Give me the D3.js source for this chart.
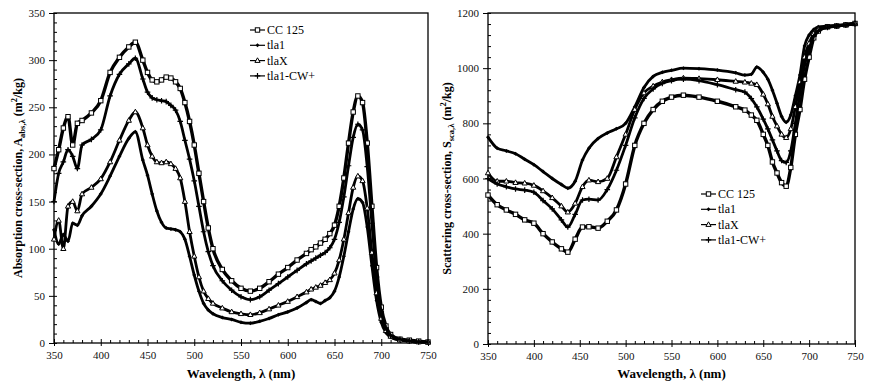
<!DOCTYPE html>
<html>
<head>
<meta charset="utf-8">
<script src="https://cdn.jsdelivr.net/npm/d3@7"></script>
<style>
	body { margin: 0; background: #fff; }
	text { font-family: "Liberation Serif", "Times New Roman", serif; }
</style>
</head>
<body>
<div id="chart"></div>
<script>
// ---- data ----
const series_names = ["CC 125", "tla1", "tlaX", "tla1-CW+"];
const x_ticks = [350, 400, 450, 500, 550, 600, 650, 700, 750];
const abs_y_ticks = [0, 50, 100, 150, 200, 250, 300, 350];
const sca_y_ticks = [0, 200, 400, 600, 800, 1000, 1200];

// absorption panel (left)
const abs_wavelength = [350,355,360,365,370,375,380,390,400,410,420,430,437,445,450,455,460,465,470,475,480,485,490,495,500,505,510,515,520,530,540,550,560,570,580,590,600,610,620,625,630,635,640,645,650,655,660,665,670,675,680,685,690,695,700,705,710,720,730,740,750];
const abs_cc125 = [185,205,228,240,210,233,236,244,257,287,303,314,319,300,287,279,277,279,282,281,277,270,255,235,210,180,150,122,100,78,66,58,55,58,65,73,80,88,95,99,102,106,110,116,125,145,175,212,245,262,255,212,145,80,38,18,9,4,3,2,1];
const abs_tla1 = [120,105,115,108,127,125,135,145,158,177,198,217,224,194,178,158,140,128,122,121,120,118,110,92,72,55,42,35,31,27,25,22,21,23,26,30,33,37,43,46,44,42,45,48,55,70,92,118,142,153,149,123,82,45,22,11,6,3,2,1,1];
const abs_tlax = [110,130,100,145,150,140,158,165,174,192,215,236,245,228,210,198,192,191,192,190,185,175,150,118,92,70,55,47,42,37,33,31,30,32,36,40,44,49,54,57,59,61,64,67,74,88,110,138,165,177,172,143,96,53,26,13,7,3,2,1,1];
const abs_cw = [150,180,192,205,198,185,210,216,226,262,285,296,302,280,266,260,258,257,256,252,247,235,215,195,172,145,118,97,82,66,56,49,46,49,56,63,70,77,84,87,90,93,96,101,110,128,155,188,218,232,226,187,127,70,33,16,8,4,2,1,1];

// scattering panel (right)
const sca_wavelength = [350,360,370,380,390,400,410,420,430,437,445,453,460,470,480,490,500,510,520,530,540,550,563,580,600,620,630,637,643,650,655,660,665,670,675,680,685,690,695,700,705,710,720,730,740,750];
const sca_cc125 = [540,505,486,470,450,438,400,370,345,333,380,424,425,420,445,486,580,720,800,850,880,895,902,895,880,860,848,830,811,760,720,660,620,585,572,640,760,850,960,1040,1110,1135,1150,1153,1157,1162];
const sca_tla1 = [750,710,700,690,670,650,625,600,578,565,590,667,710,745,765,780,800,860,930,970,985,992,1000,998,993,983,975,978,1004,985,960,920,873,825,804,830,900,975,1080,1120,1140,1150,1152,1155,1158,1163];
const sca_tlax = [620,590,590,585,583,575,555,530,500,478,510,570,594,588,600,678,760,850,910,935,950,958,964,962,958,952,949,945,940,905,870,825,790,760,748,780,860,950,1040,1090,1125,1140,1150,1153,1157,1162];
const sca_cw = [600,580,570,562,558,550,520,490,450,424,470,522,525,522,560,630,720,820,890,925,945,955,960,955,940,922,913,890,860,815,780,740,700,665,658,700,800,910,1010,1070,1115,1135,1148,1152,1156,1160];

const width = 873;
const height = 384;
const marker_types = ["square", "dot", "triangle", "plus"];

const svg = d3
	.select("#chart")
	.append("svg")
	.attr("width", width)
	.attr("height", height)
	.style("background", "#fff");

// small marker glyph centred on (0,0)
function add_marker(sel, type) {
	if (type === "square") {
		sel.append("rect")
			.attr("x", -2.2).attr("y", -2.2)
			.attr("width", 4.4).attr("height", 4.4)
			.attr("fill", "#fff").attr("stroke", "#000").attr("stroke-width", 1);
	} else if (type === "triangle") {
		sel.append("path")
			.attr("d", "M0,-2.8L2.6,1.8L-2.6,1.8Z")
			.attr("fill", "#fff").attr("stroke", "#000").attr("stroke-width", 1);
	} else if (type === "dot") {
		sel.append("path")
			.attr("d", "M0,-2L2,0L0,2L-2,0Z")
			.attr("fill", "#000");
	} else {
		sel.append("path")
			.attr("d", "M-2.8,0H2.8M0,-2.8V2.8")
			.attr("stroke", "#000").attr("stroke-width", 1.2);
	}
}

function draw_panel(cfg) {
	const g = svg.append("g");
	const x = d3.scaleLinear().domain([350, 750]).range([cfg.left, cfg.right]);
	const y = d3.scaleLinear().domain([0, cfg.y_max]).range([cfg.bottom, cfg.top]);

	// minor ticks, x (inside)
	g.append("g")
		.attr("transform", `translate(0,${cfg.bottom})`)
		.call(d3.axisBottom(x).tickValues(d3.range(360, 750, 10).filter((v) => v % 50 !== 0)).tickSize(-3).tickFormat(""))
		.call((a) => a.select(".domain").remove());
	// major ticks, x (crossing)
	const x_axis = g.append("g")
		.attr("transform", `translate(0,${cfg.bottom})`)
		.call(d3.axisBottom(x).tickValues(x_ticks).tickSize(3).tickPadding(5).tickFormat(d3.format("d")));
	x_axis.selectAll(".tick line").attr("y1", -4);
	x_axis.select(".domain").remove();

	// minor ticks, y (inside)
	g.append("g")
		.attr("transform", `translate(${cfg.left},0)`)
		.call(d3.axisLeft(y).tickValues(cfg.y_minor).tickSize(-3).tickFormat(""))
		.call((a) => a.select(".domain").remove());
	const y_axis = g.append("g")
		.attr("transform", `translate(${cfg.left},0)`)
		.call(d3.axisLeft(y).tickValues(cfg.y_ticks).tickSize(5).tickPadding(4).tickFormat(d3.format("d")));
	y_axis.selectAll(".tick line").attr("x1", 3);
	y_axis.select(".domain").remove();

	g.selectAll(".tick text")
		.attr("font-family", '"Liberation Serif", serif')
		.attr("font-size", 11)
		.attr("fill", "#111");
	g.selectAll(".tick line").attr("stroke", "#000");

	// frame
	g.append("rect")
		.attr("x", cfg.left).attr("y", cfg.top)
		.attr("width", cfg.right - cfg.left)
		.attr("height", cfg.bottom - cfg.top)
		.attr("fill", "none")
		.attr("stroke", "#000")
		.attr("stroke-width", 1.3);

	// curves
	const line = d3.line()
		.x((d) => x(d[0]))
		.y((d) => y(d[1]))
		.curve(d3.curveMonotoneX);
	cfg.series.forEach((s) => {
		const pts = cfg.wavelength.map((w, i) => [w, s.values[i]]);
		g.append("path")
			.datum(pts)
			.attr("d", line)
			.attr("fill", "none")
			.attr("stroke", "#000")
			.attr("stroke-width", s.type === "square" ? 3.4 : 2.8)
			.attr("stroke-linejoin", "round");
		g.append("g")
			.selectAll("g")
			.data(pts)
			.join("g")
			.attr("transform", (d) => `translate(${x(d[0])},${y(d[1])})`)
			.each(function () {
				add_marker(d3.select(this), s.type);
			});
	});

	// axis titles
	g.append("text")
		.attr("x", (cfg.left + cfg.right) / 2)
		.attr("y", 378)
		.attr("text-anchor", "middle")
		.attr("font-weight", "bold")
		.attr("font-size", 13)
		.text("Wavelength, λ (nm)");

	const yt = g.append("text")
		.attr("transform", `translate(${cfg.title_x},${(cfg.top + cfg.bottom) / 2}) rotate(-90)`)
		.attr("text-anchor", "middle")
		.attr("font-weight", "bold")
		.attr("font-size", 12);
	yt.append("tspan").text(cfg.title_main);
	yt.append("tspan").attr("dy", 3).attr("font-size", 8.5).text(cfg.title_sub);
	yt.append("tspan").attr("dy", -3).text(" (m");
	yt.append("tspan").attr("dy", -5).attr("font-size", 8.5).text("2");
	yt.append("tspan").attr("dy", 5).text("/kg)");

	// legend
	const legend = g.append("g")
		.attr("transform", `translate(${cfg.legend_x},${cfg.legend_y})`);
	cfg.series_order.forEach((s, i) => {
		const row = legend.append("g").attr("transform", `translate(0,${i * cfg.legend_step})`);
		row.append("line")
			.attr("x1", 0).attr("x2", 15)
			.attr("stroke", "#000").attr("stroke-width", 1.2);
		add_marker(row.append("g").attr("transform", "translate(7.5,0)"), s.type);
		row.append("text")
			.attr("x", 17)
			.attr("y", 4)
			.attr("font-size", 12)
			.text(s.name);
	});
}

const abs_series = [
	{ name: series_names[0], type: marker_types[0], values: abs_cc125 },
	{ name: series_names[1], type: marker_types[1], values: abs_tla1 },
	{ name: series_names[2], type: marker_types[2], values: abs_tlax },
	{ name: series_names[3], type: marker_types[3], values: abs_cw },
];
const sca_series = [
	{ name: series_names[0], type: marker_types[0], values: sca_cc125 },
	{ name: series_names[1], type: marker_types[1], values: sca_tla1 },
	{ name: series_names[2], type: marker_types[2], values: sca_tlax },
	{ name: series_names[3], type: marker_types[3], values: sca_cw },
];

draw_panel({
	left: 54, right: 428, top: 13, bottom: 343,
	y_max: 350,
	y_ticks: abs_y_ticks,
	y_minor: d3.range(10, 350, 10).filter((v) => v % 50 !== 0),
	wavelength: abs_wavelength,
	series: abs_series,
	series_order: abs_series,
	title_x: 22,
	title_main: "Absorption cross-section, A",
	title_sub: "abs,λ",
	legend_x: 250, legend_y: 30, legend_step: 15.3,
});

draw_panel({
	left: 488, right: 855, top: 13, bottom: 344,
	y_max: 1200,
	y_ticks: sca_y_ticks,
	y_minor: d3.range(40, 1200, 40).filter((v) => v % 200 !== 0),
	wavelength: sca_wavelength,
	series: sca_series,
	series_order: sca_series,
	title_x: 451,
	title_main: "Scattering cross-section, S",
	title_sub: "sca,λ",
	legend_x: 701, legend_y: 194, legend_step: 15.3,
});
</script>
</body>
</html>
